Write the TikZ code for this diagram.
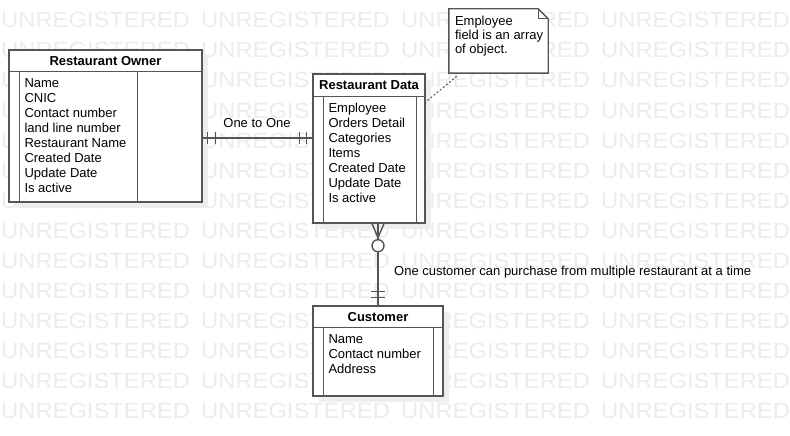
\documentclass[tikz,border=0pt]{standalone}
\usepackage{fontspec}
\setmainfont{Liberation Sans}
\usetikzlibrary{shadows}

\definecolor{linegray}{HTML}{555555}
\definecolor{shadegray}{HTML}{EEEEEE}
\definecolor{markgray}{HTML}{ECECEC}

\tikzset{
  entity/.style={draw=linegray, fill=white, line width=1.4pt, inner sep=0,
    general shadow={fill=shadegray, shadow xshift=6pt, shadow yshift=-6pt}},
  rowline/.style={draw=linegray, line width=1.4pt},
  rel/.style={draw=linegray, line width=1.4pt},
  hint/.style={draw=linegray, line width=1pt, dash pattern=on 2pt off 2pt},
  header/.style={font=\fontsize{13}{15}\selectfont\bfseries, inner sep=0},
  fields/.style={font=\fontsize{13}{15}\selectfont, align=left, anchor=north west, inner sep=0},
  lbl/.style={font=\fontsize{13}{15}\selectfont, inner sep=0},
  wmark/.style={font=\fontsize{22}{22}\selectfont, text=markgray, anchor=base west, inner sep=0},
  zerocirc/.style={circle, draw=linegray, fill=white, line width=1.4pt, minimum size=12, inner sep=0}
}

\begin{document}
\begin{tikzpicture}[x=1pt,y=-1pt]
\useasboundingbox[fill=white] (0,0) rectangle (790,436);
% watermark
\foreach \r in {0,...,13}
  \foreach \c in {0,...,3}
    \node[wmark] (wm\r\c) at (1+200*\c,28+30*\r) {\scalebox{1.08}[1]{UNREGISTERED}};

% entities
\node[entity, minimum width=193, minimum height=152] (owner) at (105.5,126) {};
\node[entity, minimum width=112, minimum height=149] (data) at (369,148.5) {};
\node[entity, minimum width=130, minimum height=90] (customer) at (378,351) {};

\draw[rowline] ([yshift=-22]owner.north west) -- ([yshift=-22]owner.north east);
\draw[rowline] ([xshift=11,yshift=-22]owner.north west) -- ([xshift=11]owner.south west);
\draw[rowline] ([xshift=-65,yshift=-22]owner.north east) -- ([xshift=-65]owner.south east);
\node[header] (ownertitle) at ([yshift=-11.5]owner.north) {Restaurant Owner};
\node[fields] (ownerfields) at ([xshift=16,yshift=-29]owner.north west)
  {Name\\CNIC\\Contact number\\land line number\\Restaurant Name\\Created Date\\Update Date\\Is active};

\draw[rowline] ([yshift=-23]data.north west) -- ([yshift=-23]data.north east);
\draw[rowline] ([xshift=11,yshift=-23]data.north west) -- ([xshift=11]data.south west);
\draw[rowline] ([xshift=-9,yshift=-23]data.north east) -- ([xshift=-9]data.south east);
\node[header] (datatitle) at ([yshift=-12]data.north) {Restaurant Data};
\node[fields] (datafields) at ([xshift=16,yshift=-30]data.north west)
  {Employee\\Orders Detail\\Categories\\Items\\Created Date\\Update Date\\Is active};

\draw[rowline] ([yshift=-22]customer.north west) -- ([yshift=-22]customer.north east);
\draw[rowline] ([xshift=11,yshift=-22]customer.north west) -- ([xshift=11]customer.south west);
\draw[rowline] ([xshift=-10,yshift=-22]customer.north east) -- ([xshift=-10]customer.south east);
\node[header] (customertitle) at ([yshift=-11.5]customer.north) {Customer};
\node[fields] (customerfields) at ([xshift=16,yshift=-29]customer.north west)
  {Name\\Contact number\\Address};

% note
\node[minimum width=99, minimum height=64, inner sep=0] (note) at (498.5,41) {};
\draw[rowline, fill=white] (note.south west) -- (note.north west) -- ([xshift=-10]note.north east)
  -- ([yshift=-10]note.north east) -- (note.south east) -- cycle;
\draw[rowline] ([xshift=-10]note.north east) |- ([yshift=-10]note.north east);
\node[fields, font=\fontsize{13}{14}\selectfont] (notetext) at ([xshift=6,yshift=-6.6]note.north west)
  {Employee\\field is an array\\of object.};
\draw[hint] ([xshift=8,yshift=-3]note.south west) -- ([yshift=46.5]data.east);

% one to one
\coordinate (link) at (0,138);
\coordinate (l1) at (owner.east |- link);
\coordinate (l2) at (data.west |- link);
\draw[rel] (l1) -- (l2);
\draw[rel] ([xshift=5]l1) ++(0,-6) -- ++(0,12);
\draw[rel] ([xshift=13]l1) ++(0,-6) -- ++(0,12);
\draw[rel] ([xshift=-13]l2) ++(0,-6) -- ++(0,12);
\draw[rel] ([xshift=-6]l2) ++(0,-6) -- ++(0,12);
\node[lbl, anchor=base] (onelabel) at (257,127) {One to One};

% customer to restaurant
\coordinate (v1) at (data.south -| customer.north);
\draw[rel] (v1) -- (customer.north);
\draw[rel] ([xshift=-6]v1) -- ([yshift=-14]v1) -- ([xshift=6]v1);
\node[zerocirc] (zero) at ([yshift=-22]v1) {};
\draw[rel] ([yshift=14]customer.north) ++(-7,0) -- ++(14,0);
\draw[rel] ([yshift=8]customer.north) ++(-7,0) -- ++(14,0);
\node[lbl, anchor=base west] (manylabel) at (394,275)
  {One customer can purchase from multiple restaurant at a time};
\end{tikzpicture}
\end{document}
